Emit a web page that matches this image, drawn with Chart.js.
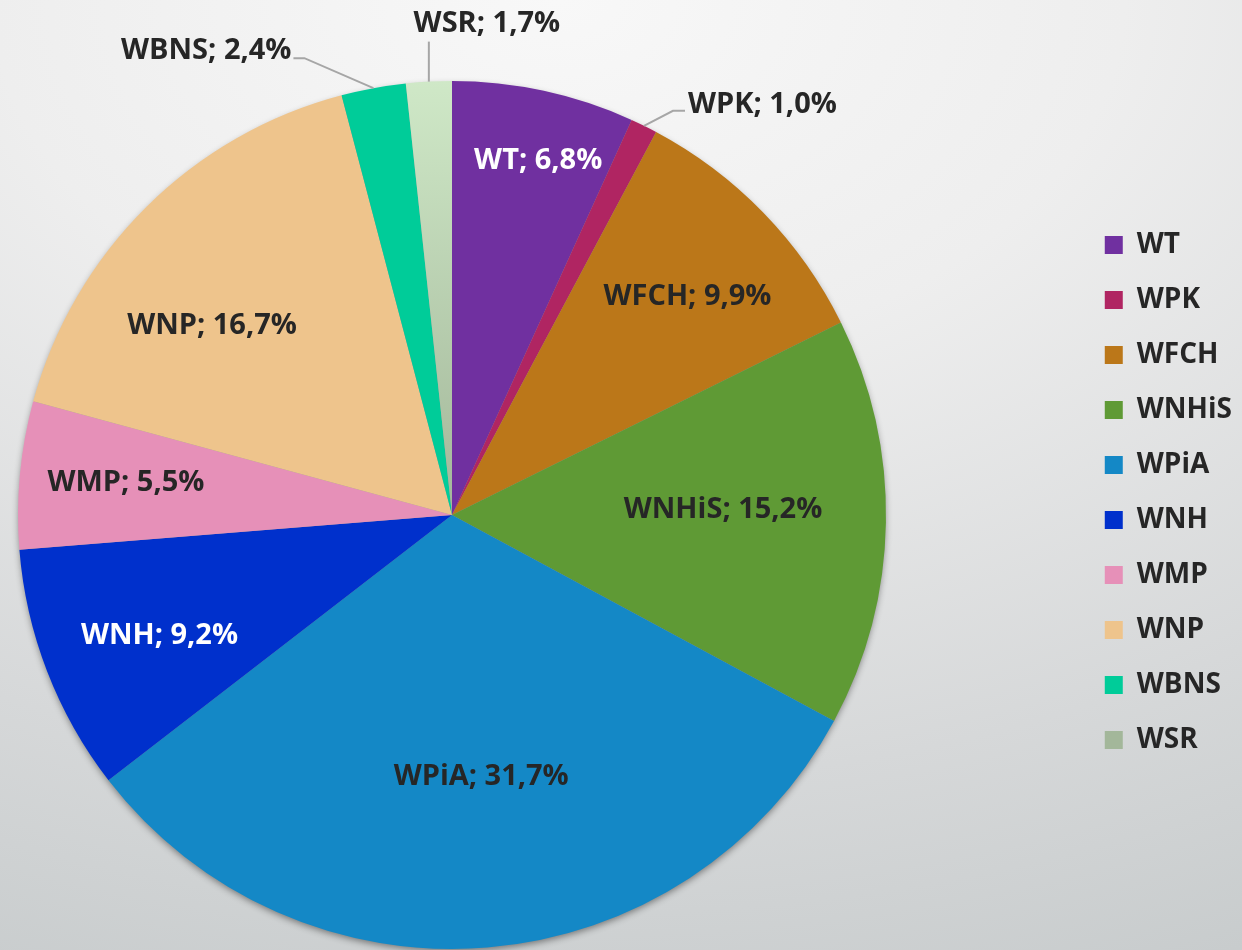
<!DOCTYPE html>
<html>
<head>
<meta charset="utf-8">
<script src="https://cdn.jsdelivr.net/npm/chart.js@4.4.1/dist/chart.umd.min.js"></script>
<style>
    html, body {
        margin: 0;
        padding: 0;
        width: 1242px;
        height: 950px;
        overflow: hidden;
        background: radial-gradient(ellipse 130% 110% at 45% 0%, #f8f8f8 0%, #eeeeee 35%, #d6d8d9 75%, #c8cccd 100%);
    }
    #myChart {
        display: block;
    }
</style>
</head>
<body>
<canvas id="myChart" width="1242" height="950"></canvas>
<script>
var labels = ["WT", "WPK", "WFCH", "WNHiS", "WPiA", "WNH", "WMP", "WNP", "WBNS", "WSR"];
var shares = [6.8, 1.0, 9.9, 15.2, 31.7, 9.2, 5.5, 16.7, 2.4, 1.7];
var sliceColors = ["#7030a0", "#b02562", "#bb7719", "#5f9a35", "#1488c6", "#0030cc", "#e690b8", "#eec48c", "#00cc99", "#c6dfc0"];

// label styling (not data): radial position + small nudge for inside labels, text colour
var labelFrac = [0.84, 0, 0.74, 0.62, 0.6, 0.73, 0.75, 0.7, 0, 0];
var labelNudge = [[9, 0], [0, 0], [5, 4], [2, -12], [8, 0], [3, 5], [-2, -4], [-26, 25], [0, 0], [0, 0]];
var labelColor = ["#fff", "#262626", "#262626", "#262626", "#262626", "#fff", "#262626", "#262626", "#262626", "#262626"];
// outside labels: [elbow dx, elbow dy, end dx, end dy, text x, text y, align] relative to the slice edge
var outsideLabels = {
    1: [29, -15, 41, -15, 44, -23, "left"],
    8: [-69, -30, -80, -30, -82, -39, "right"],
    9: [0, -40, 0, -40, 58, -60, "center"]
};

var fontFamily = "'Open Sans', 'DejaVu Sans', sans-serif";

function fmt(v) {
    return v.toFixed(1).replace(".", ",") + "%";
}

var pieArea = {
    id: 'pieArea',
    afterLayout: function (chart) {
        chart.chartArea = { left: 18, top: 81, right: 886, bottom: 949, width: 868, height: 868 };
    }
};

var pieShadow = {
    id: 'pieShadow',
    beforeDatasetsDraw: function (chart) {
        var arc = chart.getDatasetMeta(0).data[0];
        if (!arc) return;
        var ctx = chart.ctx;
        ctx.save();
        ctx.shadowColor = 'rgba(0,0,0,0.45)';
        ctx.shadowBlur = 7;
        ctx.shadowOffsetY = 3;
        ctx.fillStyle = '#999';
        ctx.beginPath();
        ctx.arc(arc.x, arc.y, arc.outerRadius - 1, 0, Math.PI * 2);
        ctx.fill();
        ctx.restore();
    }
};

var sliceLabels = {
    id: 'sliceLabels',
    afterDatasetsDraw: function (chart) {
        var ctx = chart.ctx;
        var meta = chart.getDatasetMeta(0);
        ctx.save();
        ctx.font = "bold 29px " + fontFamily;
        for (var i = 0; i < meta.data.length; i++) {
            var arc = meta.data[i];
            var mid = (arc.startAngle + arc.endAngle) / 2;
            var text = labels[i] + "; " + fmt(shares[i]);
            ctx.fillStyle = labelColor[i];
            var o = outsideLabels[i];
            if (o) {
                var ex = arc.x + Math.cos(mid) * arc.outerRadius;
                var ey = arc.y + Math.sin(mid) * arc.outerRadius;
                ctx.strokeStyle = '#a6a6a6';
                ctx.lineWidth = 2;
                ctx.beginPath();
                ctx.moveTo(ex, ey);
                ctx.lineTo(ex + o[0], ey + o[1]);
                ctx.lineTo(ex + o[2], ey + o[3]);
                ctx.stroke();
                ctx.textAlign = o[6];
                ctx.textBaseline = 'alphabetic';
                ctx.fillText(text, ex + o[4], ey + o[5] + 10);
            } else {
                var r = arc.outerRadius * labelFrac[i];
                ctx.textAlign = 'center';
                ctx.textBaseline = 'alphabetic';
                ctx.fillText(text, arc.x + Math.cos(mid) * r + labelNudge[i][0], arc.y + Math.sin(mid) * r + labelNudge[i][1] + 10);
            }
        }
        ctx.restore();
    }
};

function sliceColor(c) {
    var i = c.dataIndex;
    if (i === 9 && c.chart.chartArea) {
        var a = c.chart.chartArea;
        var g = c.chart.ctx.createLinearGradient(0, a.top, 0, a.top + a.height / 2);
        g.addColorStop(0, '#cfe8c7');
        g.addColorStop(1, '#a3b79a');
        return g;
    }
    return sliceColors[i];
}

new Chart("myChart", {
    type: "pie",
    data: {
        labels: labels,
        datasets: [{
            data: shares,
            backgroundColor: sliceColor,
            borderWidth: 0
        }]
    },
    options: {
        responsive: false,
        animation: false,
        layout: {
            padding: { top: 35, bottom: 0, left: 0, right: 0 }
        },
        plugins: {
            legend: {
                position: 'right',
                align: 'center',
                labels: {
                    boxWidth: 18,
                    boxHeight: 18,
                    padding: 27,
                    color: '#262626',
                    font: { family: fontFamily, size: 28, weight: 'bold' }
                }
            },
            tooltip: { enabled: false }
        }
    },
    plugins: [pieArea, pieShadow, sliceLabels]
});
</script>
</body>
</html>
